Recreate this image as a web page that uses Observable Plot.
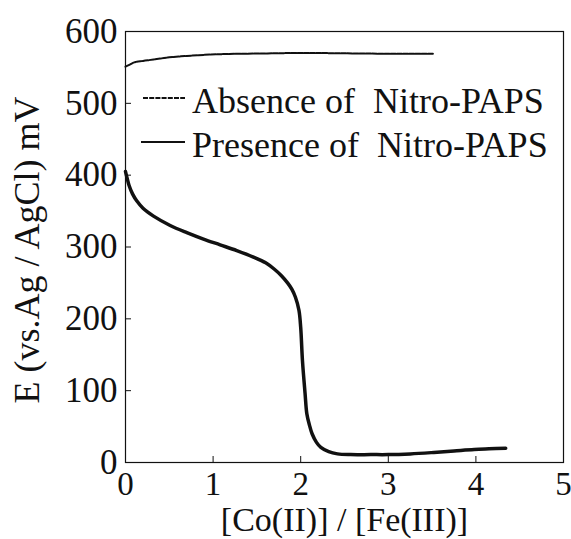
<!DOCTYPE html>
<html>
<head>
<meta charset="utf-8">
<script src="https://cdn.jsdelivr.net/npm/d3@7"></script>
<script src="https://cdn.jsdelivr.net/npm/@observablehq/plot@0.6"></script>
<style>
  body { margin: 0; background: #fff; }
  #chart svg { font-family: "Liberation Serif", "Times New Roman", serif; }
</style>
</head>
<body>
<div id="chart"></div>
<script>
// Potentiometric titration of Fe(III) with Co(II): electrode potential vs. mole ratio
const seriesNames = ["Absence of  Nitro-PAPS", "Presence of  Nitro-PAPS"];

// Without Nitro-PAPS
const absenceRatio = [0, 0.05, 0.1, 0.2, 0.32, 0.5, 0.7, 0.9, 1.1, 1.3, 1.6, 1.9, 2.2, 2.6, 3.0, 3.3, 3.52];
const absenceE     = [551, 554, 557, 559, 561, 564, 566, 567.5, 568.5, 569, 569.5, 570, 570, 569.5, 569, 569, 569];

// With Nitro-PAPS
const presenceRatio = [0, 0.02, 0.04, 0.08, 0.13, 0.2, 0.32, 0.51, 0.70, 0.89, 1.08, 1.27, 1.46, 1.60, 1.70, 1.78, 1.85, 1.90, 1.94, 1.98, 2.00, 2.02, 2.05, 2.07, 2.10, 2.13, 2.18, 2.23, 2.32, 2.42, 2.57, 2.80, 3.0, 3.25, 3.52, 3.75, 3.98, 4.15, 4.34];
const presenceE     = [405, 395, 386, 374, 364, 354, 343, 330, 320, 311, 303, 295, 286, 278, 269, 260, 250, 241, 230, 212, 188, 142, 96, 68, 52, 40, 28, 21, 15, 12, 11, 11, 11, 12, 14, 16, 18, 19, 20];

const xTicks = [0, 1, 2, 3, 4, 5];
const yTicks = [0, 100, 200, 300, 400, 500, 600];
const xLabel = "[Co(II)] / [Fe(III)]";
const yLabel = "E (vs.Ag / AgCl) mV";

const absence = absenceRatio.map((r, i) => ({ratio: r, E: absenceE[i]}));
const presence = presenceRatio.map((r, i) => ({ratio: r, E: presenceE[i]}));

const ink = "#111";

const chart = Plot.plot({
  width: 571,
  height: 539,
  marginLeft: 125,
  marginRight: 8,
  marginTop: 31,
  marginBottom: 77,
  style: {background: "#fff", color: ink, fontFamily: "'Liberation Serif', 'Times New Roman', serif"},
  x: {domain: [0, 5]},
  y: {domain: [0, 600]},
  marks: [
    Plot.frame({stroke: ink, strokeWidth: 1.2}),
    // inward tick marks
    Plot.axisX({ticks: xTicks, tickSize: -6, fill: "none", stroke: ink, label: null}),
    Plot.axisY({ticks: yTicks, tickSize: -6, fill: "none", stroke: ink, label: null}),
    // tick labels
    Plot.axisX({ticks: xTicks, tickSize: 0, tickPadding: 9, fontSize: 33, fill: ink, label: null, tickFormat: d => String(d)}),
    Plot.axisY({ticks: yTicks, tickSize: 0, tickPadding: 8, fontSize: 35, fill: ink, label: null, tickFormat: d => String(d)}),
    // axis titles
    Plot.text([xLabel], {text: d => d, frameAnchor: "bottom", dy: 58, fontSize: 34, fill: ink, textAnchor: "middle", lineAnchor: "middle"}),
    Plot.text([yLabel], {text: d => d, frameAnchor: "left", dx: -98, dy: 3, rotate: -90, fontSize: 36, fill: ink, textAnchor: "middle", lineAnchor: "middle"}),
    // curves
    Plot.line(absence, {x: "ratio", y: "E", stroke: ink, strokeWidth: 2, strokeDasharray: "5,1.2", curve: "catmull-rom"}),
    Plot.line(presence, {x: "ratio", y: "E", stroke: ink, strokeWidth: 3.5, curve: "catmull-rom"})
  ]
});

document.getElementById("chart").appendChild(chart);

// Legend inside the plot area
const legend = d3.select(chart).append("g")
  .attr("font-size", 36)
  .attr("fill", ink)
  .attr("text-anchor", "start");
const legendRows = [
  {name: seriesNames[0], y: 98, x1: 143, width: 2, dash: "5,1.2"},
  {name: seriesNames[1], y: 142, x1: 141, width: 2.2, dash: null}
];
legendRows.forEach(row => {
  legend.append("line")
    .attr("x1", row.x1).attr("x2", 185)
    .attr("y1", row.y).attr("y2", row.y)
    .attr("stroke", ink).attr("stroke-width", row.width)
    .attr("stroke-dasharray", row.dash);
  legend.append("text")
    .attr("x", 192).attr("y", row.y + 15)
    .attr("text-anchor", "start")
    .style("white-space", "pre")
    .text(row.name);
});
</script>
</body>
</html>
